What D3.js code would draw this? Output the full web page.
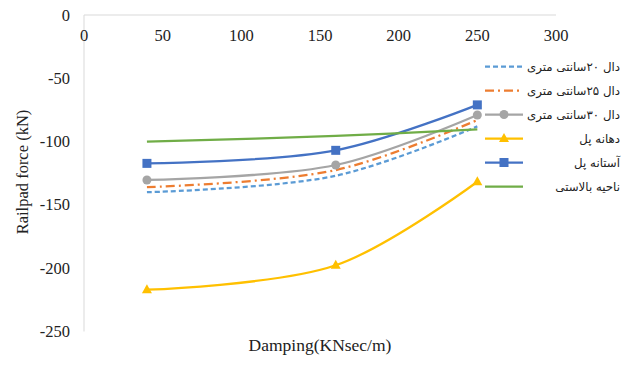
<!DOCTYPE html>
<html><head><meta charset="utf-8">
<script src="https://cdn.jsdelivr.net/npm/d3@7"></script>
<style>body{margin:0;background:#fff;}svg{display:block;}</style>
</head><body>
<svg id="chart" width="633" height="378"></svg>
<script>
const damping = [40, 160, 250];
const xTicks = [0, 50, 100, 150, 200, 250, 300];
const yTicks = [0, -50, -100, -150, -200, -250];
const seriesNames = ["دال ۲۰سانتی متری", "دال ۲۵سانتی متری", "دال ۳۰سانتی متری", "دهانه پل", "آستانه پل", "ناحیه بالاستی"];
const slab20 = [-140, -127, -88];
const slab25 = [-136, -122.5, -83];
const slab30 = [-130.3, -118.5, -79];
const bridgeSpan = [-217, -197.7, -131.7];
const bridgeApproach = [-117.2, -106.9, -71];
const ballastZone = [-100, -95.5, -90.3];
const xTitle = "Damping(KNsec/m)";
const yTitle = "Railpad force (kN)";

const styles = [
  {color:"#5B9BD5", dash:"5,3", marker:null},
  {color:"#ED7D31", dash:"9,4,2,4", marker:null},
  {color:"#A5A5A5", dash:null, marker:"circle"},
  {color:"#FFC000", dash:null, marker:"triangle"},
  {color:"#4472C4", dash:null, marker:"square"},
  {color:"#70AD47", dash:null, marker:null}
];
const allValues = [slab20, slab25, slab30, bridgeSpan, bridgeApproach, ballastZone];

const svg = d3.select("#chart");
const x = d3.scaleLinear().domain([0, 300]).range([84, 556]);
const y = d3.scaleLinear().domain([-250, 0]).range([331.5, 15]);
const serif = "'Liberation Serif','Times New Roman',serif";

svg.append("line").attr("x1", x(0)).attr("x2", x(300)).attr("y1", y(0)).attr("y2", y(0))
  .attr("stroke", "#d9d9d9").attr("stroke-width", 1);
svg.append("line").attr("x1", x(0)).attr("x2", x(0)).attr("y1", y(0)).attr("y2", y(-250))
  .attr("stroke", "#d9d9d9").attr("stroke-width", 1);

svg.append("g").selectAll("text").data(xTicks).join("text")
  .attr("x", d => x(d)).attr("y", 40.5).attr("text-anchor", "middle")
  .attr("font-family", serif).attr("font-size", 16.5).attr("fill", "#222")
  .text(d => d);
svg.append("g").selectAll("text").data(yTicks).join("text")
  .attr("x", 70).attr("y", d => y(d) + 5.5).attr("text-anchor", "end")
  .attr("font-family", serif).attr("font-size", 16.5).attr("fill", "#222")
  .text(d => d);

svg.append("text").attr("x", 320).attr("y", 351).attr("text-anchor", "middle")
  .attr("font-family", serif).attr("font-size", 17.5).attr("fill", "#222").text(xTitle);
svg.append("text").attr("transform", "translate(28,172) rotate(-90)").attr("text-anchor", "middle")
  .attr("font-family", serif).attr("font-size", 16.5).attr("fill", "#222").text(yTitle);

const line = d3.line().x(d => x(d[0])).y(d => y(d[1])).curve(d3.curveCatmullRom.alpha(0.5));

function drawMarker(g, type, cx, cy, color) {
  if (type === "circle") g.append("circle").attr("cx", cx).attr("cy", cy).attr("r", 4.5).attr("fill", color);
  else if (type === "square") g.append("rect").attr("x", cx - 4.5).attr("y", cy - 4.5).attr("width", 9).attr("height", 9).attr("fill", color);
  else if (type === "triangle") g.append("path").attr("d", `M${cx},${cy-5.5}L${cx+5},${cy+3.5}L${cx-5},${cy+3.5}Z`).attr("fill", color);
}

allValues.forEach((vals, i) => {
  const st = styles[i];
  const pts = damping.map((d, j) => [d, vals[j]]);
  const g = svg.append("g");
  g.append("path").attr("d", line(pts)).attr("fill", "none").attr("stroke", st.color)
    .attr("stroke-width", 2.25).attr("stroke-dasharray", st.dash);
  if (st.marker) pts.forEach(p => drawMarker(g, st.marker, x(p[0]), y(p[1]), st.color));
});

const legY0 = 66.5, legStep = 24;
seriesNames.forEach((name, i) => {
  const st = styles[i];
  const ly = legY0 + i * legStep;
  const g = svg.append("g");
  g.append("line").attr("x1", 485).attr("x2", 523).attr("y1", ly).attr("y2", ly)
    .attr("stroke", st.color).attr("stroke-width", 2.25).attr("stroke-dasharray", st.dash);
  if (st.marker) drawMarker(g, st.marker, 504, ly, st.color);
  g.append("text").attr("x", 620).attr("y", ly + 4.5).attr("text-anchor", "start")
    .attr("direction", "rtl")
    .attr("font-family", "'DejaVu Sans',sans-serif").attr("font-size", 11.8).attr("fill", "#222")
    .text(name);
});
</script>
</body></html>
